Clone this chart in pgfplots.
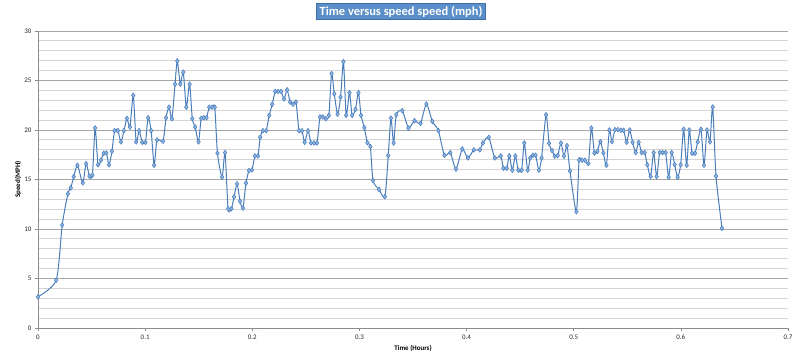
\documentclass[border=0pt]{standalone}
\usepackage{fontspec}
\setmainfont{Carlito}
\usepackage{pgfplots}
\pgfplotsset{compat=1.18}
\definecolor{lineblue}{HTML}{4A7EBB}
\definecolor{markfill}{HTML}{8DB3E2}
\definecolor{titlefill}{HTML}{5B8FC9}
\definecolor{titledraw}{HTML}{3E6FA6}
\begin{document}
\begin{tikzpicture}
\path (-38bp,-34bp) rectangle (762bp,328bp);
\begin{axis}[
  at={(0,0)}, anchor=south west,
  scale only axis, width=750bp, height=297bp,
  xmin=0, xmax=0.7, ymin=0, ymax=30,
  xtick={0,0.1,...,0.7}, ytick={0,5,...,30},
  minor y tick num=4,
  ymajorgrids, yminorgrids,
  major grid style={color=black!35, line width=1bp},
  minor grid style={color=black!17, line width=1bp},
  axis lines*=left,
  axis line style={color=black!45, line width=0.7bp, -},
  tick align=outside,
  major tick length=3bp, minor tick length=0pt,
  tick style={color=black!45, line width=0.6bp},
  ticklabel style={font=\fontsize{7}{8}\selectfont, text=black!85},
  /pgf/number format/assume math mode=true,
  xlabel={\textbf{Time (Hours)}},
  ylabel={\textbf{Speed(MPH)}},
  xlabel style={font=\fontsize{7}{8}\selectfont, at={(axis description cs:0.5,-0.0673)}, anchor=center},
  ylabel style={font=\fontsize{7}{8}\selectfont, at={(axis description cs:-0.0267,0.5)}, anchor=center},
  clip=false,
]
\addplot[color=lineblue, line width=1bp, smooth, tension=0.4,
  mark=diamond*, mark size=2.4bp,
  mark options={fill=markfill, draw=lineblue, line width=0.5bp}]
coordinates {
(0.0000,3.15) (0.0170,4.83) (0.0226,10.40) (0.0279,13.56) (0.0306,14.16)
(0.0334,15.30) (0.0368,16.44) (0.0418,14.66) (0.0449,16.60) (0.0480,15.34)
(0.0508,15.44) (0.0533,20.20) (0.0560,16.48) (0.0588,16.95) (0.0613,17.65)
(0.0638,17.68) (0.0663,16.48) (0.0690,17.85) (0.0715,19.93) (0.0746,19.93)
(0.0774,18.80) (0.0802,19.93) (0.0830,21.17) (0.0858,20.30) (0.0889,23.50)
(0.0916,18.80) (0.0944,19.93) (0.0972,18.76) (0.1003,18.76) (0.1028,21.24)
(0.1056,19.93) (0.1084,16.44) (0.1111,19.00) (0.1167,18.86) (0.1195,21.24)
(0.1223,22.30) (0.1250,21.14) (0.1279,24.63) (0.1300,26.98) (0.1328,24.63)
(0.1356,25.84) (0.1384,22.30) (0.1415,24.63) (0.1440,21.14) (0.1467,20.30)
(0.1498,18.80) (0.1523,21.17) (0.1548,21.24) (0.1573,21.24) (0.1598,22.30)
(0.1625,22.30) (0.1650,22.30) (0.1675,17.65) (0.1718,15.23) (0.1746,17.72)
(0.1774,12.05) (0.1805,12.05) (0.1830,13.25) (0.1858,14.56) (0.1886,12.79)
(0.1913,12.11) (0.1941,14.63) (0.1969,15.90) (0.1997,15.97) (0.2025,17.38)
(0.2053,17.38) (0.2074,19.26) (0.2099,19.93) (0.2130,19.93) (0.2158,21.48)
(0.2186,22.60) (0.2214,23.89) (0.2241,23.89) (0.2269,23.89) (0.2297,23.15)
(0.2325,24.06) (0.2353,22.82) (0.2380,22.60) (0.2408,22.82) (0.2436,19.93)
(0.2464,19.93) (0.2489,18.76) (0.2520,19.93) (0.2548,18.69) (0.2576,18.69)
(0.2604,18.69) (0.2632,21.31) (0.2659,21.31) (0.2687,21.14) (0.2715,21.48)
(0.2740,25.70) (0.2765,23.66) (0.2796,21.60) (0.2824,23.32) (0.2851,26.90)
(0.2876,21.48) (0.2907,23.76) (0.2932,21.48) (0.2963,22.10) (0.2991,23.76)
(0.3015,21.48) (0.3046,20.23) (0.3074,18.72) (0.3102,18.32) (0.3127,14.90)
(0.3183,13.99) (0.3238,13.26) (0.3269,17.42) (0.3294,21.20) (0.3319,18.69)
(0.3344,21.54) (0.3400,21.95) (0.3458,20.20) (0.3514,20.94) (0.3570,20.67)
(0.3625,22.62) (0.3681,20.87) (0.3737,19.93) (0.3793,17.45) (0.3848,17.72)
(0.3901,16.04) (0.3960,18.09) (0.4012,17.18) (0.4068,17.99) (0.4124,17.99)
(0.4152,18.69) (0.4207,19.26) (0.4263,17.18) (0.4319,17.38) (0.4344,16.14)
(0.4375,16.14) (0.4399,17.38) (0.4427,15.94) (0.4455,17.38) (0.4483,15.94)
(0.4514,15.94) (0.4539,18.69) (0.4570,15.94) (0.4594,17.18) (0.4619,17.45)
(0.4644,17.45) (0.4675,15.94) (0.4700,17.18) (0.4742,21.54) (0.4770,18.66)
(0.4798,17.92) (0.4823,17.35) (0.4851,17.42) (0.4881,18.69) (0.4909,17.35)
(0.4937,18.42) (0.4965,15.87) (0.5025,11.74) (0.5050,16.95) (0.5077,16.95)
(0.5105,16.95) (0.5137,16.61) (0.5165,20.20) (0.5193,17.68) (0.5221,17.85)
(0.5249,18.83) (0.5277,17.68) (0.5305,16.44) (0.5333,20.00) (0.5357,18.83)
(0.5385,20.03) (0.5413,20.03) (0.5441,19.97) (0.5466,19.97) (0.5494,18.76)
(0.5522,20.00) (0.5550,18.76) (0.5578,17.72) (0.5606,18.76) (0.5634,17.72)
(0.5662,17.72) (0.5687,16.48) (0.5718,15.30) (0.5746,17.72) (0.5774,15.30)
(0.5802,17.72) (0.5830,17.72) (0.5858,17.72) (0.5886,15.23) (0.5914,17.72)
(0.5942,16.51) (0.5970,15.23) (0.5998,16.48) (0.6026,20.07) (0.6054,16.44)
(0.6079,20.00) (0.6104,17.65) (0.6132,17.65) (0.6157,18.79) (0.6188,20.07)
(0.6216,16.44) (0.6244,20.00) (0.6272,18.79) (0.6297,22.32) (0.6328,15.34)
(0.6384,10.07)
};
\end{axis}
\node[fill=titlefill, draw=titledraw, line width=0.8bp, text=white,
  font=\fontsize{12.5}{14}\selectfont\bfseries, inner xsep=3bp, inner ysep=2.5bp,
  anchor=center] at (363bp,316.5bp) {Time versus speed speed (mph)};
\end{tikzpicture}
\end{document}
